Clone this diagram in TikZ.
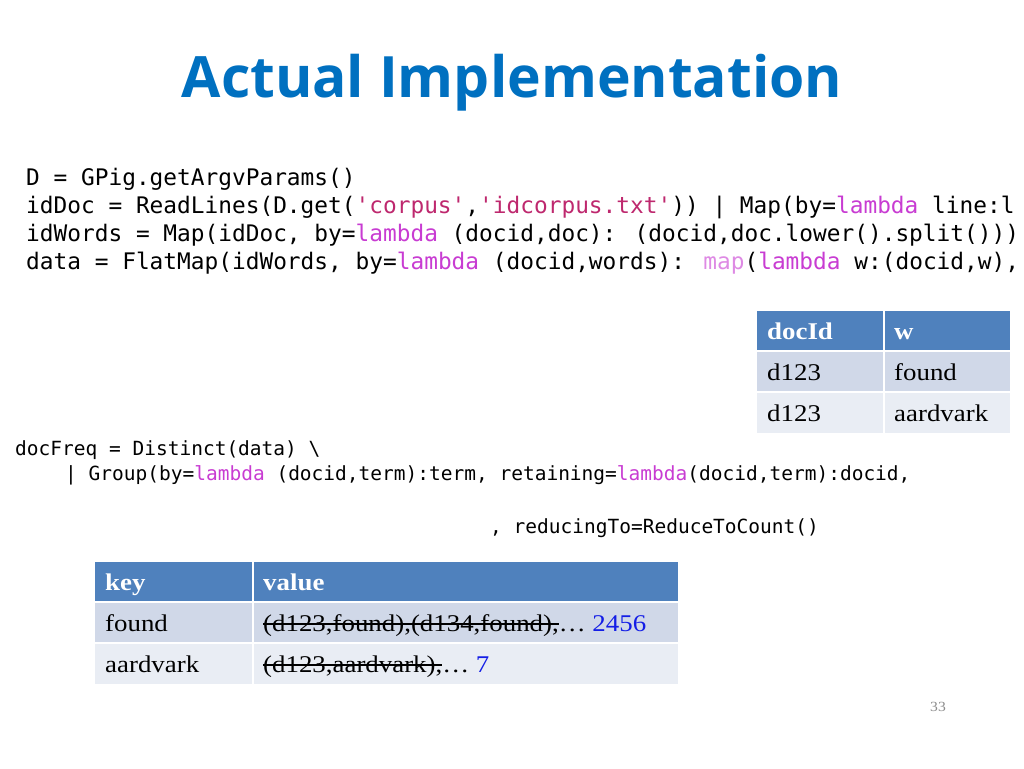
\documentclass[tikz,border=0pt]{standalone}
\usepackage{fontspec}
\setmainfont[FakeStretch=1.12]{Liberation Serif}
\newfontfamily\titlefont{Open Sans}
\newfontfamily\codefont{DejaVu Sans Mono}
\definecolor{titleblue}{RGB}{0,112,192}
\definecolor{hdr}{RGB}{79,129,189}
\definecolor{rowa}{RGB}{208,216,232}
\definecolor{rowb}{RGB}{233,237,244}
\definecolor{kw}{RGB}{200,60,210}
\definecolor{str}{RGB}{190,40,110}
\definecolor{numblue}{RGB}{20,30,230}
\newcommand{\kw}[1]{\textcolor{kw}{#1}}
\newcommand{\st}[1]{\textcolor{str}{#1}}
\newsavebox{\mystbox}
\newcommand{\mysout}[1]{\sbox{\mystbox}{#1}\rlap{\rule[0.27em]{\wd\mystbox}{0.06em}}\usebox{\mystbox}}
\begin{document}
\begin{tikzpicture}[x=1pt,y=-1pt,
  code/.style={anchor=base west,inner sep=0pt,font=\codefont\fontsize{22.8}{26}\selectfont},
  codeb/.style={anchor=base west,inner sep=0pt,font=\codefont\fontsize{19.5}{23}\selectfont},
  cell/.style={anchor=base west,inner sep=0pt,font=\fontsize{24}{28}\selectfont},
  hcell/.style={cell,text=white,font=\bfseries\fontsize{24}{28}\selectfont}]
\useasboundingbox (0,0) rectangle (1024,768);
\node[font=\titlefont\bfseries\fontsize{57}{64}\selectfont,text=titleblue] (title) at (512,83) {Actual Implementation};
\node[code] (c1) at (26,185) {D = GPig.getArgvParams()};
\node[code] (c2) at (26,213) {idDoc = ReadLines(D.get(\st{'corpus'},\st{'idcorpus.txt'})) | Map(by=\kw{lambda} line:l};
\node[code] (c3) at (26,241) {idWords = Map(idDoc, by=\kw{lambda} (docid,doc): (docid,doc.lower().split()))};
\node[code] (c4) at (26,269) {data = FlatMap(idWords, by=\kw{lambda} (docid,words): \textcolor{kw!60}{map}(\kw{lambda} w:(docid,w),};
\node[codeb] (d1) at (15,455) {docFreq = Distinct(data) \textbackslash};
\node[codeb] (d2) at (65,480) {| Group(by=\kw{lambda} (docid,term):term, retaining=\kw{lambda}(docid,term):docid,};
\node[codeb] (d3) at (490,533) {, reducingTo=ReduceToCount()};
% top table
\fill[hdr] (757,311) rectangle (1010,350);
\fill[rowa] (757,352) rectangle (1010,391);
\fill[rowb] (757,393) rectangle (1010,433);
\draw[white,line width=2pt] (884,311) -- (884,433) (757,351) -- (1010,351) (757,392) -- (1010,392);
\node[hcell] (t1) at (767,339) {docId};
\node[hcell] (t2) at (894,339) {w};
\node[cell] (t3) at (767,380) {d123};
\node[cell] (t4) at (894,380) {found};
\node[cell] (t5) at (767,421) {d123};
\node[cell] (t6) at (894,421) {aardvark};
% bottom table
\fill[hdr] (95,562) rectangle (678,601);
\fill[rowa] (95,603) rectangle (678,642);
\fill[rowb] (95,644) rectangle (678,684);
\draw[white,line width=2pt] (253,562) -- (253,684) (95,602) -- (678,602) (95,643) -- (678,643);
\node[hcell] (b1) at (105,590) {key};
\node[hcell] (b2) at (263,590) {value};
\node[cell] (b3) at (105,631) {found};
\node[cell] (b4) at (263,631) {\mysout{(d123,found),(d134,found),}\dots\ \textcolor{numblue}{2456}};
\node[cell] (b5) at (105,672) {aardvark};
\node[cell] (b6) at (263,672) {\mysout{(d123,aardvark),}\dots\ \textcolor{numblue}{7}};
\node[text=black!45,font=\fontsize{14}{16}\selectfont] (pg) at (938,707) {33};
\end{tikzpicture}
\end{document}
